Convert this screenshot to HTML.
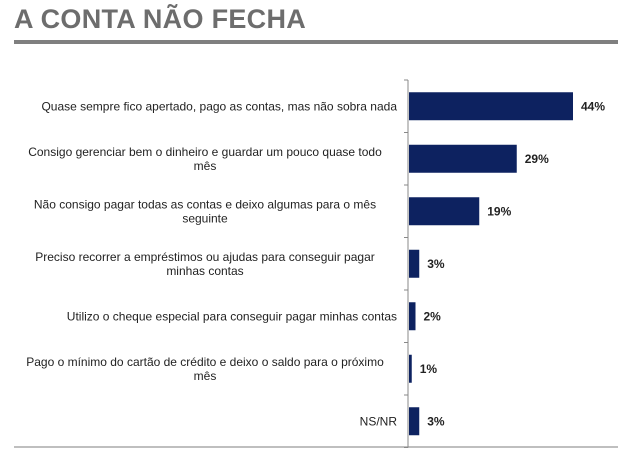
<!DOCTYPE html>
<html><head><meta charset="utf-8"><style>
body{margin:0;background:#fff;width:618px;height:453px;overflow:hidden;font-family:"Liberation Sans",sans-serif;position:relative}
#title{position:absolute;left:14px;top:4px;font-size:27px;font-weight:bold;color:#6d6d6d;letter-spacing:0.3px}
#rule{position:absolute;left:14px;top:40px;width:604px;height:4px;background:#7f7f7f}
#bottom{position:absolute;left:14px;top:446px;width:604px;height:2px;background:#bfbfbf}
</style></head><body>
<div id="title">A CONTA NÃO FECHA</div>
<div id="rule"></div>
<div id="bottom"></div>
<svg id="chart" width="618" height="453" style="position:absolute;left:0;top:0"></svg>
<script>
const categories=[["Quase sempre fico apertado, pago as contas, mas não sobra nada"],["Consigo gerenciar bem o dinheiro e guardar um pouco quase todo","mês"],["Não consigo pagar todas as contas e deixo algumas para o mês","seguinte"],["Preciso recorrer a empréstimos ou ajudas para conseguir pagar","minhas contas"],["Utilizo o cheque especial para conseguir pagar minhas contas"],["Pago o mínimo do cartão de crédito e deixo o saldo para o próximo","mês"],["NS/NR"]];
const values=[44,29,19,3,2,1,3];
const valueLabels=["44%","29%","19%","3%","2%","1%","3%"];
const NS="http://www.w3.org/2000/svg";
const svg=document.getElementById('chart');
const x0=408,pxPer=3.75,top0=80,rowH=52.5;
const xs=v=>x0+v*pxPer;
const yc=i=>top0+rowH*(i+0.5);
function mk(t,a){const e=document.createElementNS(NS,t);for(const k in a)e.setAttribute(k,a[k]);svg.appendChild(e);return e;}
const ax=mk('line',{x1:x0,x2:x0,y1:top0,y2:top0+rowH*values.length,stroke:'#888','stroke-width':1});


for(let i=0;i<=values.length;i++){const t=mk('line',{x1:x0-4,x2:x0,y1:top0+rowH*i,y2:top0+rowH*i,stroke:'#888'});

}
values.forEach((v,i)=>{
const r=mk('rect',{x:x0+1,y:yc(i)-14,width:Math.max(xs(v)-x0-1,2),height:28,fill:'#0d2260'});


const t=mk('text',{x:xs(v)+8,y:yc(i)+4,'font-size':12,'font-weight':'bold',fill:'#222','font-family':'Liberation Sans, sans-serif'});
t.textContent=valueLabels[i];


const lines=categories[i];
lines.forEach((ln,j)=>{
const c=mk('text',{x:397,y:yc(i)+4+(j-(lines.length-1)/2)*14,'font-size':12,fill:'#222','text-anchor':lines.length>1&&j==1?'middle':'end','font-family':'Liberation Sans, sans-serif'});
if(lines.length>1){c.setAttribute('text-anchor','middle');c.setAttribute('x',205);}
c.textContent=ln;


});
});
</script>
</body></html>
